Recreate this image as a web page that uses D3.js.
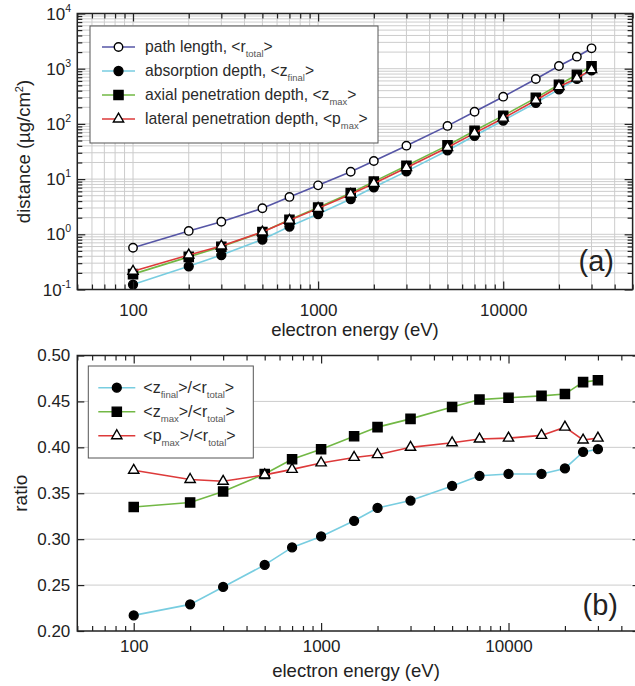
<!DOCTYPE html>
<html>
<head>
<meta charset="utf-8">
<script src="https://cdn.jsdelivr.net/npm/d3@7"></script>
<style>
  body { margin: 0; background: #fff; }
  svg { display: block; font-family: "Liberation Sans", Arial, sans-serif; }
  .grid line { stroke: #cccccc; stroke-width: 1; }
  .axis path { display: none; }
  .axis line { stroke: #222; stroke-width: 1.2; }
  .axis text { font-size: 17px; fill: #222; font-family: "Liberation Sans", Arial, sans-serif; }
</style>
</head>
<body>
<div id="chart"></div>
<script>
// electron energies (eV), same for every series
const energies = [100, 200, 300, 500, 700, 1000, 1500, 2000, 3000, 5000, 7000, 10000, 15000, 20000, 25000, 30000];

// panel (a): distances in ug/cm^2
const pathLength = [0.57, 1.15, 1.69, 2.96, 4.75, 7.7, 13.6, 21.3, 40.3, 92, 166, 311, 650, 1120, 1650, 2340];
const absorptionDepth = [0.123, 0.263, 0.42, 0.805, 1.38, 2.33, 4.35, 7.1, 13.8, 33, 61, 115, 241, 422, 652, 933];
const axialDepth = [0.19, 0.39, 0.595, 1.1, 1.84, 3.06, 5.6, 9.0, 17.4, 40.8, 75, 141, 296, 512, 777, 1110];
const lateralDepth = [0.214, 0.42, 0.613, 1.1, 1.79, 2.95, 5.3, 8.35, 16.1, 37.3, 68, 127, 268, 472, 673, 961];

// panel (b): ratios to path length
const ratioZFinal = [0.217, 0.229, 0.248, 0.272, 0.291, 0.303, 0.320, 0.334, 0.342, 0.358, 0.369, 0.371, 0.371, 0.377, 0.395, 0.398];
const ratioZMax = [0.335, 0.340, 0.352, 0.371, 0.387, 0.398, 0.412, 0.422, 0.431, 0.444, 0.452, 0.454, 0.456, 0.458, 0.471, 0.473];
const ratioPMax = [0.375, 0.365, 0.363, 0.370, 0.376, 0.383, 0.389, 0.392, 0.400, 0.405, 0.409, 0.410, 0.413, 0.422, 0.408, 0.410];

// tick labels
const energyTicks = [100, 1000, 10000];
const distanceTicks = [0.1, 1, 10, 100, 1000, 10000];
const ratioTicks = [0.20, 0.25, 0.30, 0.35, 0.40, 0.45, 0.50];

const width = 635, height = 686;

const svg = d3.select("#chart")
  .append("svg")
  .attr("width", width)
  .attr("height", height);

svg.append("rect").attr("width", width).attr("height", height).attr("fill", "#fff");

// markers
const markerSymbol = {
  open: d3.symbol().type(d3.symbolCircle).size(56),
  dot: d3.symbol().type(d3.symbolCircle).size(62),
  square: d3.symbol().type(d3.symbolSquare).size(84),
  triangle: d3.symbol().type(d3.symbolTriangle).size(46)
};

const hollow = m => m === "open" || m === "triangle";

const drawSeries = (g, x, y, values, color, marker) => {
  const line = d3.line()
    .x((d, i) => x(energies[i]))
    .y(d => y(d));

  g.append("path")
    .datum(values)
    .attr("fill", "none")
    .attr("stroke", color)
    .attr("stroke-width", 1.6)
    .attr("d", line);

  g.selectAll(null)
    .data(values)
    .enter()
    .append("path")
    .attr("transform", (d, i) => `translate(${x(energies[i])},${y(d)})`)
    .attr("d", markerSymbol[marker]())
    .attr("fill", hollow(marker) ? "#fff" : "#000")
    .attr("stroke", "#000")
    .attr("stroke-width", 1.4);
};

// text with subscripts, parts like [{t: "<r"}, {t: "total", sub: true}, {t: ">"}]
const richText = (text, parts, size) => {
  let low = false;
  parts.forEach(p => {
    const ts = text.append("tspan").text(p.t);
    if (p.sub && !low) {
      ts.attr("font-size", size * 0.6).attr("dy", size * 0.3).attr("fill", "#555");
      low = true;
    } else if (!p.sub && low) {
      ts.attr("dy", -size * 0.3);
      low = false;
    }
  });
};

const drawLegend = (g, box, entries, size) => {
  g.append("rect")
    .attr("x", box.x).attr("y", box.y)
    .attr("width", box.w).attr("height", box.h)
    .attr("fill", "#fff")
    .attr("stroke", "#555")
    .attr("stroke-width", 1);

  entries.forEach((e, i) => {
    const cy = box.y + box.first + i * box.step;
    g.append("line")
      .attr("x1", box.x + box.lineStart).attr("x2", box.x + box.lineEnd)
      .attr("y1", cy).attr("y2", cy)
      .attr("stroke", e.color).attr("stroke-width", 1.6);
    g.append("path")
      .attr("transform", `translate(${box.x + (box.lineStart + box.lineEnd) / 2},${cy})`)
      .attr("d", markerSymbol[e.marker]())
      .attr("fill", hollow(e.marker) ? "#fff" : "#000")
      .attr("stroke", "#000")
      .attr("stroke-width", 1.4);
    const t = g.append("text")
      .attr("x", box.x + box.textStart)
      .attr("y", cy + size * 0.35)
      .attr("font-size", size)
      .attr("fill", "#2a2a2a");
    richText(t, e.label, size);
  });
};

const isMajor = v => Math.abs(Math.log10(v) - Math.round(Math.log10(v))) < 1e-6;

// ---------------- panel (a) ----------------
const a = { left: 77.3, right: 632.6, top: 13.5, bottom: 289.5 };
const xA = d3.scaleLog().domain([50, 50000]).range([a.left, a.right]);
const yA = d3.scaleLog().domain([0.1, 10000]).range([a.bottom, a.top]);

const minorXA = xA.ticks().filter(v => !isMajor(v));
const minorYA = yA.ticks().filter(v => !isMajor(v));

const gA = svg.append("g");

// grid
const gridA = gA.append("g").attr("class", "grid");
gridA.selectAll(".vx")
  .data(xA.ticks())
  .enter()
  .append("line")
  .attr("x1", d => xA(d)).attr("x2", d => xA(d))
  .attr("y1", a.top).attr("y2", a.bottom);
gridA.selectAll(".hy")
  .data(yA.ticks())
  .enter()
  .append("line")
  .attr("x1", a.left).attr("x2", a.right)
  .attr("y1", d => yA(d)).attr("y2", d => yA(d));

// series
drawSeries(gA, xA, yA, pathLength, "#5656a6", "open");
drawSeries(gA, xA, yA, absorptionDepth, "#78cde0", "dot");
drawSeries(gA, xA, yA, axialDepth, "#72b845", "square");
drawSeries(gA, xA, yA, lateralDepth, "#dd3a3a", "triangle");

// axes (ticks inward)
gA.append("g").attr("class", "axis")
  .attr("transform", `translate(0,${a.bottom})`)
  .call(d3.axisBottom(xA).tickValues(minorXA).tickSize(-5).tickFormat(""));
gA.append("g").attr("class", "axis")
  .attr("transform", `translate(0,${a.bottom})`)
  .call(d3.axisBottom(xA).tickValues(energyTicks).tickSize(-8).tickPadding(14).tickFormat(d3.format("d")));
gA.append("g").attr("class", "axis")
  .attr("transform", `translate(0,${a.top})`)
  .call(d3.axisTop(xA).tickValues(minorXA).tickSize(-5).tickFormat(""));
gA.append("g").attr("class", "axis")
  .attr("transform", `translate(0,${a.top})`)
  .call(d3.axisTop(xA).tickValues(energyTicks).tickSize(-8).tickFormat(""));
gA.append("g").attr("class", "axis")
  .attr("transform", `translate(${a.left},0)`)
  .call(d3.axisLeft(yA).tickValues(minorYA).tickSize(-5).tickFormat(""));
gA.append("g").attr("class", "axis")
  .attr("transform", `translate(${a.left},0)`)
  .call(d3.axisLeft(yA).tickValues(distanceTicks).tickSize(-8).tickFormat(""));
gA.append("g").attr("class", "axis")
  .attr("transform", `translate(${a.right},0)`)
  .call(d3.axisRight(yA).tickValues(minorYA).tickSize(-5).tickFormat(""));
gA.append("g").attr("class", "axis")
  .attr("transform", `translate(${a.right},0)`)
  .call(d3.axisRight(yA).tickValues(distanceTicks).tickSize(-8).tickFormat(""));

// y labels as powers of ten
gA.selectAll(".ylab")
  .data(distanceTicks)
  .enter()
  .append("text")
  .attr("x", 71)
  .attr("y", d => yA(d) + 6)
  .attr("text-anchor", "end")
  .attr("font-size", 17)
  .attr("fill", "#222")
  .each(function (d) {
    const t = d3.select(this);
    t.append("tspan").text("10");
    t.append("tspan").attr("font-size", 10.5).attr("dy", -8).text(Math.round(Math.log10(d)));
  });

gA.append("rect")
  .attr("x", a.left).attr("y", a.top)
  .attr("width", a.right - a.left).attr("height", a.bottom - a.top)
  .attr("fill", "none").attr("stroke", "#222").attr("stroke-width", 1.5);

drawLegend(gA, { x: 90, y: 26, w: 288, h: 117, first: 21, step: 24, lineStart: 12, lineEnd: 45, textStart: 55 }, [
  { color: "#5656a6", marker: "open", label: [{ t: "path length, <r" }, { t: "total", sub: true }, { t: ">" }] },
  { color: "#78cde0", marker: "dot", label: [{ t: "absorption depth, <z" }, { t: "final", sub: true }, { t: ">" }] },
  { color: "#72b845", marker: "square", label: [{ t: "axial penetration depth, <z" }, { t: "max", sub: true }, { t: ">" }] },
  { color: "#dd3a3a", marker: "triangle", label: [{ t: "lateral penetration depth, <p" }, { t: "max", sub: true }, { t: ">" }] }
], 15.7);

gA.append("text")
  .attr("x", 614).attr("y", 271)
  .attr("text-anchor", "end")
  .attr("font-size", 29)
  .attr("fill", "#222")
  .text("(a)");

gA.append("text")
  .attr("x", (a.left + a.right) / 2).attr("y", 336)
  .attr("text-anchor", "middle")
  .attr("font-size", 18.5)
  .attr("fill", "#222")
  .text("electron energy (eV)");

const yTitleA = gA.append("text")
  .attr("transform", `translate(30,${(a.top + a.bottom) / 2}) rotate(-90)`)
  .attr("text-anchor", "middle")
  .attr("font-size", 18.5)
  .attr("fill", "#222");
yTitleA.append("tspan").text("distance (µg/cm");
yTitleA.append("tspan").attr("font-size", 11).attr("dy", -7).text("2");
yTitleA.append("tspan").attr("dy", 7).text(")");

// ---------------- panel (b) ----------------
const b = { left: 77.3, right: 639.5, top: 355.5, bottom: 631 };
const xB = d3.scaleLog().domain([50, 50000]).range([b.left, b.right]);
const yB = d3.scaleLinear().domain([0.2, 0.5]).range([b.bottom, b.top]);

const minorXB = xB.ticks().filter(v => !isMajor(v));

const gB = svg.append("g");

gB.append("g").attr("class", "grid")
  .selectAll("line")
  .data(ratioTicks.slice(1, -1))
  .enter()
  .append("line")
  .attr("x1", b.left).attr("x2", b.right - 8)
  .attr("y1", d => yB(d)).attr("y2", d => yB(d));

drawSeries(gB, xB, yB, ratioZFinal, "#78cde0", "dot");
drawSeries(gB, xB, yB, ratioZMax, "#72b845", "square");
drawSeries(gB, xB, yB, ratioPMax, "#dd3a3a", "triangle");

gB.append("g").attr("class", "axis")
  .attr("transform", `translate(0,${b.bottom})`)
  .call(d3.axisBottom(xB).tickValues(minorXB).tickSize(-5).tickFormat(""));
gB.append("g").attr("class", "axis")
  .attr("transform", `translate(0,${b.bottom})`)
  .call(d3.axisBottom(xB).tickValues(energyTicks).tickSize(-8).tickPadding(9).tickFormat(d3.format("d")));
gB.append("g").attr("class", "axis")
  .attr("transform", `translate(0,${b.top})`)
  .call(d3.axisTop(xB).tickValues(minorXB).tickSize(-5).tickFormat(""));
gB.append("g").attr("class", "axis")
  .attr("transform", `translate(0,${b.top})`)
  .call(d3.axisTop(xB).tickValues(energyTicks).tickSize(-8).tickFormat(""));
gB.append("g").attr("class", "axis")
  .attr("transform", `translate(${b.left},0)`)
  .call(d3.axisLeft(yB).tickValues(ratioTicks).tickSize(-7).tickPadding(7).tickFormat(d3.format(".2f")));
gB.append("g").attr("class", "axis")
  .attr("transform", `translate(${b.right},0)`)
  .call(d3.axisRight(yB).tickValues(ratioTicks).tickSize(-7).tickFormat(""));

gB.append("rect")
  .attr("x", b.left).attr("y", b.top)
  .attr("width", b.right - b.left).attr("height", b.bottom - b.top)
  .attr("fill", "none").attr("stroke", "#222").attr("stroke-width", 1.5);

drawLegend(gB, { x: 88.3, y: 366, w: 165, h: 92, first: 21.7, step: 24, lineStart: 10, lineEnd: 47, textStart: 55 }, [
  { color: "#78cde0", marker: "dot", label: [{ t: "<z" }, { t: "final", sub: true }, { t: ">/<r" }, { t: "total", sub: true }, { t: ">" }] },
  { color: "#72b845", marker: "square", label: [{ t: "<z" }, { t: "max", sub: true }, { t: ">/<r" }, { t: "total", sub: true }, { t: ">" }] },
  { color: "#dd3a3a", marker: "triangle", label: [{ t: "<p" }, { t: "max", sub: true }, { t: ">/<r" }, { t: "total", sub: true }, { t: ">" }] }
], 16);

gB.append("text")
  .attr("x", 618).attr("y", 615)
  .attr("text-anchor", "end")
  .attr("font-size", 29)
  .attr("fill", "#222")
  .text("(b)");

gB.append("text")
  .attr("x", 356).attr("y", 677)
  .attr("text-anchor", "middle")
  .attr("font-size", 18.5)
  .attr("fill", "#222")
  .text("electron energy (eV)");

gB.append("text")
  .attr("transform", `translate(27,${(b.top + b.bottom) / 2}) rotate(-90)`)
  .attr("text-anchor", "middle")
  .attr("font-size", 19)
  .attr("fill", "#222")
  .text("ratio");
</script>
</body>
</html>
